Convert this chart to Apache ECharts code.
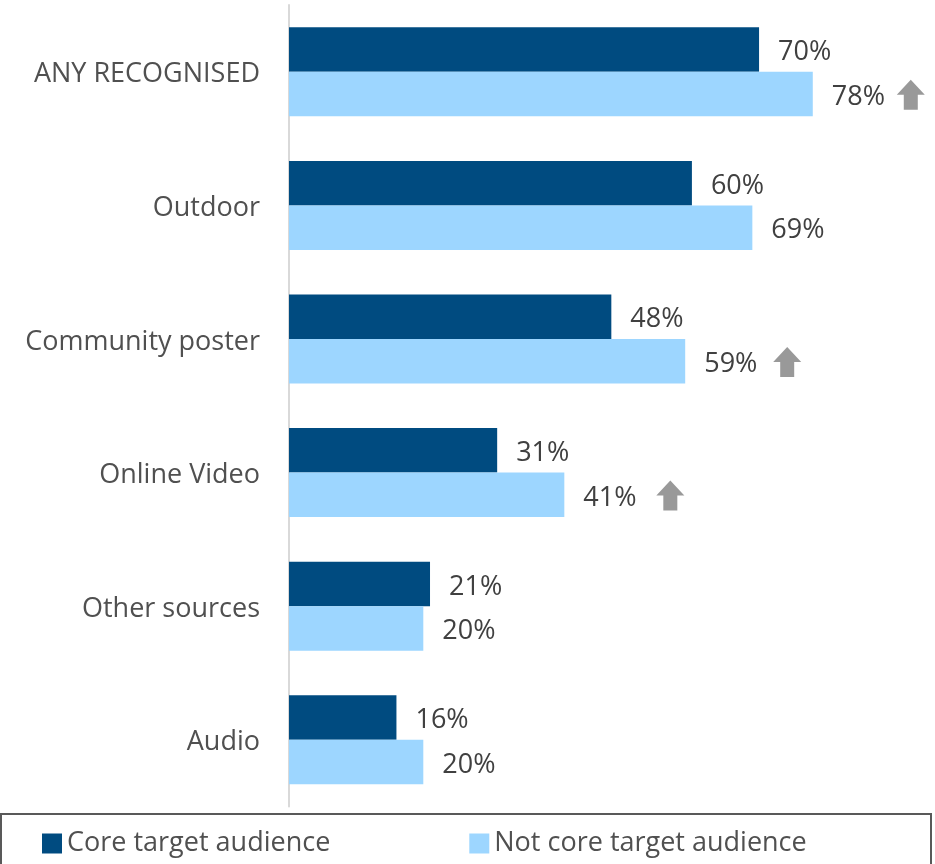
<!DOCTYPE html>
<html>
<head>
<meta charset="utf-8">
<script src="https://cdn.jsdelivr.net/npm/echarts@6/dist/echarts.min.js"></script>
<style>
  html, body { margin: 0; padding: 0; background: #ffffff; }
  #chart { width: 935px; height: 864px; }
</style>
</head>
<body>
<div id="chart"></div>
<script>
// Ad recognition by source, core vs. not-core target audience (%)
const categories = ['ANY RECOGNISED', 'Outdoor', 'Community poster', 'Online Video', 'Other sources', 'Audio'];
const coreValues = [70, 60, 48, 31, 21, 16];
const notCoreValues = [78, 69, 59, 41, 20, 20];
// true where the not-core figure is significantly higher
const notCoreHigher = [true, false, true, true, false, false];
const seriesNames = ['Core target audience', 'Not core target audience'];

const FONT = '"Open Sans", "Liberation Sans", sans-serif';
const TEXT = '#404040';
const CAT_TEXT = '#505050';
const DARK = '#004b80';
const LIGHT = '#9dd6ff';
const ARROW = '#808080';

// horizontal gap between the light bar end and its up-arrow
const arrowGap = [98, 0, 102, 106, 0, 0];
const arrowData = [];
notCoreValues.forEach((v, i) => {
  if (notCoreHigher[i]) {
    arrowData.push({ value: [v, categories[i]], symbolOffset: [arrowGap[i], 23] });
  }
});

const barLabel = {
  show: true, position: 'right', distance: 19, offset: [0, 3],
  formatter: '{c}%', color: TEXT, fontSize: 27, fontFamily: FONT
};

const chart = echarts.init(document.getElementById('chart'), null, { renderer: 'canvas' });
chart.setOption({
  animation: false,
  backgroundColor: '#ffffff',
  textStyle: { fontFamily: FONT },
  // value axis runs past the right edge; 96.2% lands on the canvas edge
  grid: { left: 289, top: 5, right: 0, height: 801.6 },
  xAxis: {
    type: 'value', min: 0, max: 96.2,
    show: false
  },
  yAxis: {
    type: 'category', data: categories, inverse: true,
    axisLine: { show: true, lineStyle: { color: '#d9d9d9', width: 2 } },
    axisTick: { show: false },
    splitLine: { show: false },
    axisLabel: {
      margin: 29,
      formatter: (v) => '{c|' + v + '}',
      rich: { c: { color: CAT_TEXT, fontSize: 27, fontFamily: FONT, padding: [6, 0, 0, 0] } }
    }
  },
  legend: {
    left: 42, top: 830, padding: 0,
    icon: 'rect', itemWidth: 20, itemHeight: 20, itemGap: 139,
    data: seriesNames,
    textStyle: { color: CAT_TEXT, fontSize: 27, fontFamily: FONT },
    selectedMode: false
  },
  graphic: [{
    type: 'rect',
    shape: { x: 1, y: 814, width: 930, height: 60 },
    style: { fill: 'none', stroke: '#595959', lineWidth: 2 },
    silent: true
  }],
  series: [
    {
      name: seriesNames[0], type: 'bar', data: coreValues,
      barWidth: 44.5, barGap: '0%',
      itemStyle: { color: DARK },
      label: barLabel
    },
    {
      name: seriesNames[1], type: 'bar', data: notCoreValues,
      barWidth: 44.5, barGap: '0%',
      itemStyle: { color: LIGHT },
      label: barLabel
    },
    {
      name: 'up', type: 'scatter', data: arrowData,
      symbol: 'path://M14 0 L28 15 L21 15 L21 30 L7 30 L7 15 L0 15 Z',
      symbolSize: [28, 30],
      itemStyle: { color: ARROW },
      silent: true, z: 5
    }
  ]
});
</script>
</body>
</html>
